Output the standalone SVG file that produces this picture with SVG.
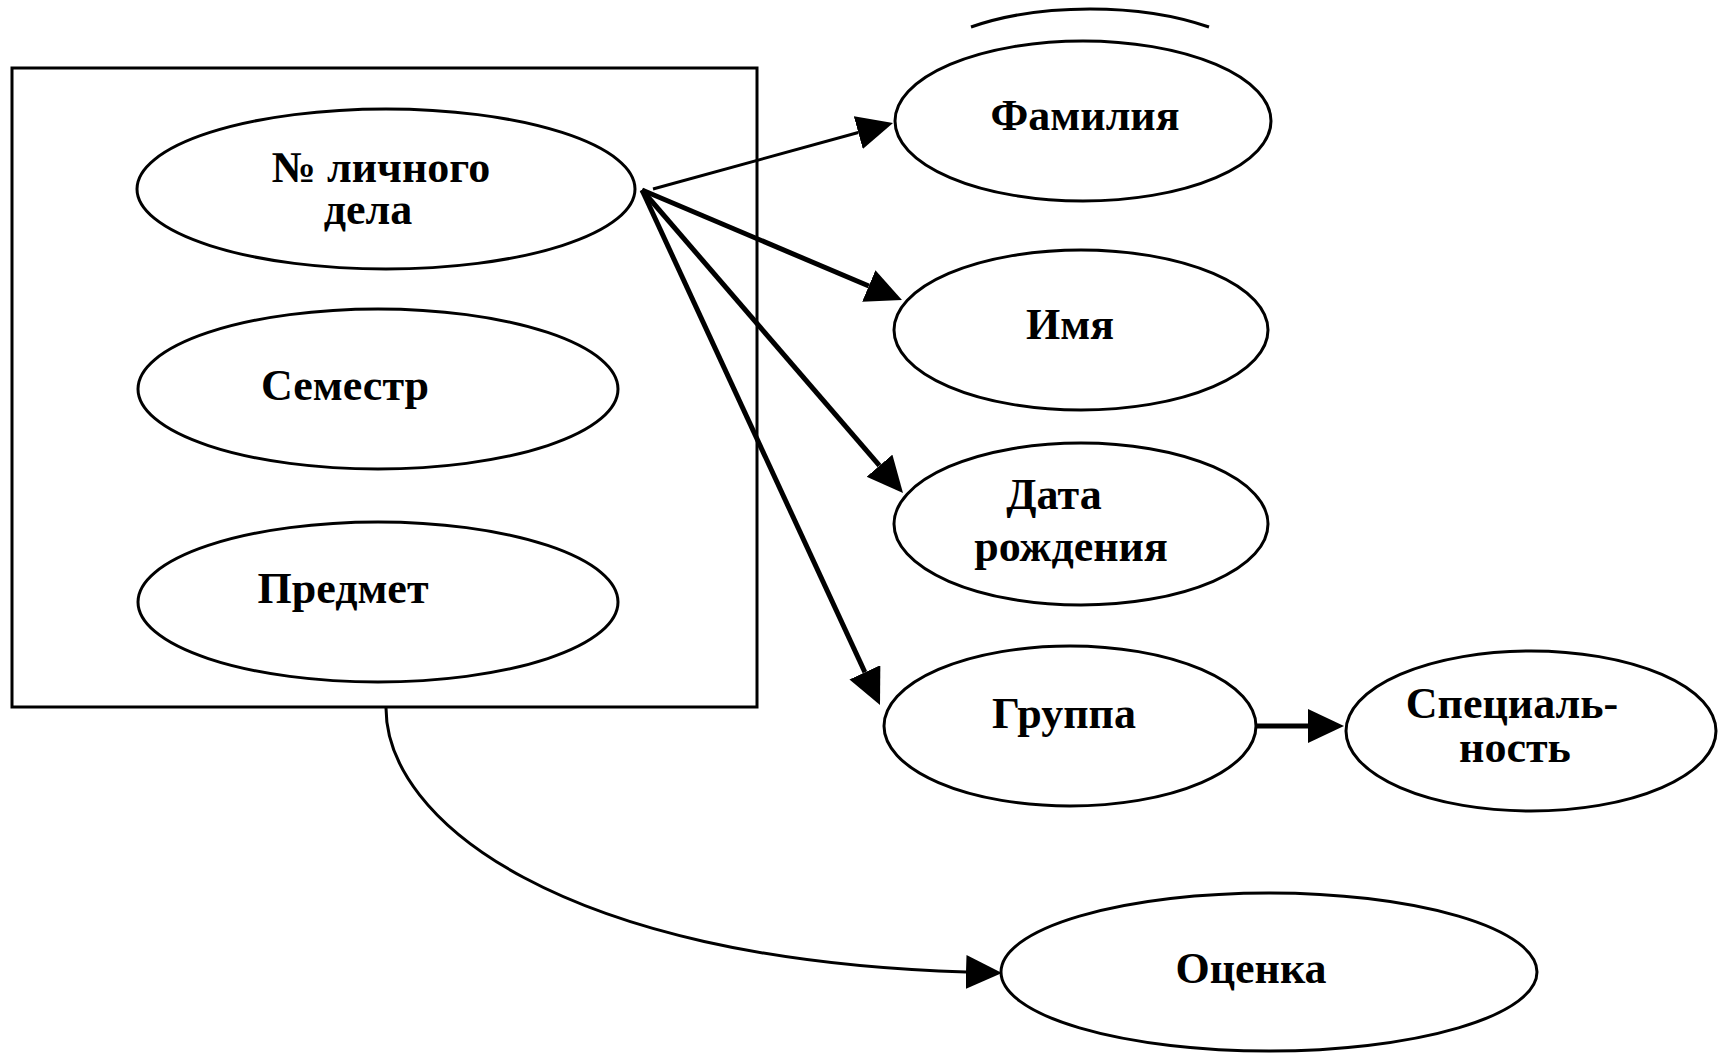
<svg xmlns="http://www.w3.org/2000/svg" width="1719" height="1054" viewBox="0 0 1719 1054">
  <style>
    .node { fill: #ffffff; stroke: #000000; stroke-width: 3; }
    .lbl { font-family: "Liberation Serif", "Times New Roman", serif; font-weight: bold; font-size: 44px; fill: #000000; text-anchor: middle; }
    .thin { fill: none; stroke: #000000; stroke-width: 3; marker-end: url(#head); }
    .thick { fill: none; stroke: #000000; stroke-width: 5; marker-end: url(#head); }
  </style>
  <defs>
    <marker id="head" markerUnits="userSpaceOnUse" markerWidth="38" markerHeight="36" refX="0" refY="17" orient="auto" viewBox="0 0 38 36">
      <path d="M0,0 L36,17 L0,34 z" fill="#000000"/>
    </marker>
  </defs>
  <rect width="1719" height="1054" fill="#ffffff"/>

  <g id="partial-arc">
    <path d="M971,27 A188,80 0 0 1 1209,27" fill="none" stroke="#000000" stroke-width="3"/>
  </g>

  <g id="key-box">
    <rect x="12" y="68" width="745" height="639" fill="none" stroke="#000000" stroke-width="3"/>
  </g>

  <g id="node-nomer">
    <ellipse class="node" cx="386" cy="189" rx="249" ry="80"/>
    <text class="lbl"><tspan x="381" y="182">№ личного</tspan><tspan x="368" y="224">дела</tspan></text>
  </g>
  <g id="node-semestr">
    <ellipse class="node" cx="378" cy="389" rx="240" ry="80"/>
    <text class="lbl" x="345" y="400">Семестр</text>
  </g>
  <g id="node-predmet">
    <ellipse class="node" cx="378" cy="602" rx="240" ry="80"/>
    <text class="lbl" x="343" y="603">Предмет</text>
  </g>
  <g id="node-familiya">
    <ellipse class="node" cx="1083" cy="121" rx="188" ry="80"/>
    <text class="lbl" x="1085" y="130">Фамилия</text>
  </g>
  <g id="node-imya">
    <ellipse class="node" cx="1081" cy="330" rx="187" ry="80"/>
    <text class="lbl" x="1070" y="339">Имя</text>
  </g>
  <g id="node-data">
    <ellipse class="node" cx="1081" cy="524" rx="187" ry="81"/>
    <text class="lbl"><tspan x="1054" y="509">Дата</tspan><tspan x="1071" y="561">рождения</tspan></text>
  </g>
  <g id="node-gruppa">
    <ellipse class="node" cx="1070" cy="726" rx="186" ry="80"/>
    <text class="lbl" x="1064" y="728">Группа</text>
  </g>
  <g id="node-specialnost">
    <ellipse class="node" cx="1531" cy="731" rx="185" ry="80"/>
    <text class="lbl"><tspan x="1512" y="718">Специаль-</tspan><tspan x="1515" y="762">ность</tspan></text>
  </g>
  <g id="node-ocenka">
    <ellipse class="node" cx="1269" cy="972" rx="268" ry="79"/>
    <text class="lbl" x="1251" y="983">Оценка</text>
  </g>

  <g id="connectors">
    <line class="thin" x1="653" y1="189" x2="858.3" y2="132.5"/>
    <line class="thick" x1="642" y1="190" x2="868.8" y2="286"/>
    <line class="thick" x1="642" y1="190" x2="879.5" y2="465.7"/>
    <line class="thick" x1="642" y1="190" x2="864.9" y2="672.3"/>
    <line class="thick" x1="1257" y1="726" x2="1308" y2="726"/>
    <path class="thin" d="M386,708 C386,820 560,960 966,972"/>
  </g>
</svg>
